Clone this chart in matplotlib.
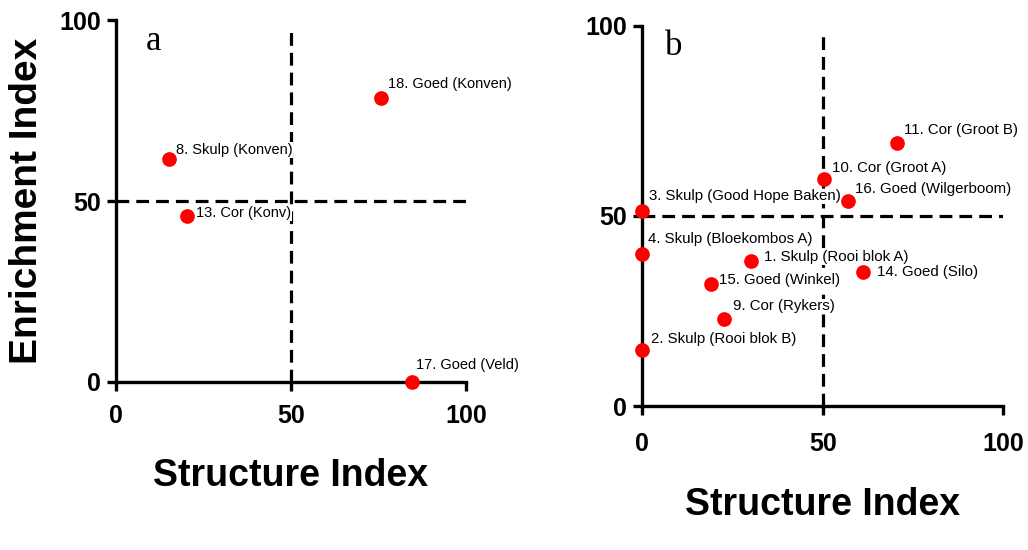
import matplotlib.pyplot as plt

plt.rcParams["font.family"] = ["Liberation Sans", "DejaVu Sans"]

# Nematode faunal analysis: structure index vs enrichment index per site
sites_a = ["18. Goed (Konven)", "8. Skulp (Konven)", "13. Cor (Konv)", "17. Goed (Veld)"]
si_a = [75.7, 15.1, 20.4, 84.6]
ei_a = [78.6, 61.6, 45.9, 0.0]

sites_b = [
    "11. Cor (Groot B)",
    "10. Cor (Groot A)",
    "16. Goed (Wilgerboom)",
    "3. Skulp (Good Hope Baken)",
    "4. Skulp (Bloekombos A)",
    "1. Skulp (Rooi blok A)",
    "14. Goed (Silo)",
    "15. Goed (Winkel)",
    "9. Cor (Rykers)",
    "2. Skulp (Rooi blok B)",
]
si_b = [70.6, 50.2, 57.1, 0.0, 0.0, 30.2, 61.0, 19.0, 22.5, 0.0]
ei_b = [69.3, 59.7, 53.9, 51.2, 40.0, 38.2, 35.3, 32.1, 22.8, 14.8]

ticks = [0, 50, 100]
threshold = 50

# label offsets from the point, in pixels
offs_a = [(7, 14), (7, 9), (9, 3), (4, 17)]
offs_b = [(7, 13), (8, 11), (7, 12), (7, 15), (6, 15), (13, 4), (14, 0), (8, 4), (9, 13), (9, 11)]


def quadrant_panel(ax, si, ei, names, offs, letter, letter_xy, tickpad, fs):
    ax.set_xlim(0, 100)
    ax.set_ylim(0, 100)
    for s in ["top", "right"]:
        ax.spines[s].set_visible(False)
    for s in ["left", "bottom"]:
        ax.spines[s].set_linewidth(2.4)
    ax.set_xticks(ticks)
    ax.set_yticks(ticks)
    ax.tick_params(width=2.4, length=6.5, labelsize=18)
    ax.tick_params(axis="x", pad=tickpad)
    ax.tick_params(axis="y", pad=4.5)
    for lab in ax.get_xticklabels() + ax.get_yticklabels():
        lab.set_fontweight("bold")

    ax.axvline(threshold, ymax=0.985, color="black", lw=2.3, dashes=(4, 2.2), zorder=1)
    ax.axhline(threshold, color="black", lw=2.3, dashes=(4, 2.2), zorder=1)

    ax.scatter(si, ei, s=112, color="#ff0000", zorder=5, clip_on=False, linewidths=0)
    for x, y, name, off in zip(si, ei, names, offs):
        ax.annotate(name, (x, y), xytext=off, textcoords="offset pixels",
                    fontsize=fs, va="center", ha="left", zorder=4,
                    bbox=dict(boxstyle="square,pad=0.05", fc="white", ec="none"))

    ax.text(letter_xy[0], letter_xy[1], letter, transform=ax.transAxes,
            family="Liberation Serif", fontsize=25, va="baseline")

    ax.set_xlabel("Structure Index", fontsize=27, fontweight="bold")


fig = plt.figure(figsize=(10.28, 5.5), dpi=100)
ax_a = fig.add_axes([0.1128, 0.3055, 0.3405, 0.658])
ax_b = fig.add_axes([0.6248, 0.2618, 0.3512, 0.691])

quadrant_panel(ax_a, si_a, ei_a, sites_a, offs_a, "a", (0.085, 0.917), 9.5, 10.5)
quadrant_panel(ax_b, si_b, ei_b, sites_b, offs_b, "b", (0.063, 0.924), 12, 10.8)

ax_a.set_ylabel("Enrichment Index", fontsize=28, fontweight="bold")
ax_a.yaxis.set_label_coords(-0.254, 0.5)
ax_a.yaxis.label.set_va("center")
ax_a.xaxis.set_label_coords(0.5, -0.26)
ax_a.xaxis.label.set_va("center")
ax_b.xaxis.set_label_coords(0.5, -0.26)
ax_b.xaxis.label.set_va("center")

fig.savefig("out.png", dpi=100)
